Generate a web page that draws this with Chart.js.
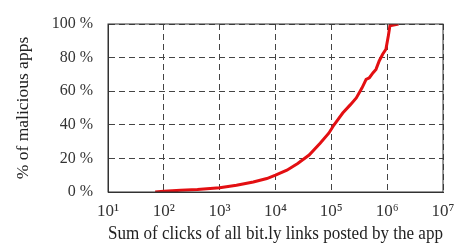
<!DOCTYPE html>
<html>
<head>
<meta charset="utf-8">
<script src="https://cdn.jsdelivr.net/npm/chart.js@4"></script>
<style>
  html, body { margin: 0; padding: 0; background: #fff; }
  #wrap { width: 457px; height: 246px; }
</style>
</head>
<body>
<div id="wrap"><canvas id="cdf"></canvas></div>
<script>
// clicks summed over all bit.ly links of an app, and the cumulative share of apps
const clicks = [70, 100, 200, 400, 1000, 2000, 4000, 7000, 10000, 16000, 25000, 40000, 63000,
    90000, 112000, 160000, 220000, 280000, 355000, 420000, 480000, 560000, 630000, 720000,
    830000, 950000, 1050000, 1120000, 1600000];
const pctApps = [0, 0.5, 1, 1.5, 2.5, 4, 6, 8, 10, 13, 17, 22, 29,
    35, 40, 47, 52, 56, 62, 67, 68, 71, 73, 78,
    82, 85, 93, 99, 100];
const xTicks = [1e1, 1e2, 1e3, 1e4, 1e5, 1e6, 1e7];
const yTicks = [0, 20, 40, 60, 80, 100];
const sup = ['⁰', '¹', '²', '³', '⁴', '⁵', '⁶', '⁷'];

const serif = 'Liberation Serif, Times New Roman, serif';

const frame = {
    id: 'frame',
    afterDraw(chart) {
        const { ctx, chartArea: a } = chart;
        ctx.save();
        ctx.strokeStyle = '#333';
        ctx.lineWidth = 1;
        ctx.strokeRect(a.left, a.top, a.right - a.left, a.bottom - a.top);
        ctx.restore();
    }
};

const points = clicks.map((c, i) => ({ x: c, y: pctApps[i] }));

new Chart(document.getElementById('cdf'), {
    type: 'line',
    data: {
        datasets: [{
            data: points,
            borderColor: '#e30f12',
            borderWidth: 3,
            pointRadius: 0,
            tension: 0,
            fill: false
        }]
    },
    options: {
        responsive: true,
        maintainAspectRatio: false,
        animation: false,
        layout: { padding: { top: 24, right: 14, bottom: 0, left: 0 } },
        plugins: { legend: { display: false }, tooltip: { enabled: false } },
        scales: {
            x: {
                type: 'logarithmic',
                min: 1e1,
                max: 1e7,
                afterBuildTicks: (axis) => { axis.ticks = xTicks.map(v => ({ value: v })); },
                afterFit: (axis) => {
                    axis.height = 54;
                    axis.paddingLeft = 0;
                    axis.paddingRight = 0;
                },
                ticks: {
                    color: '#333',
                    font: { family: serif, size: 17 },
                    padding: 9,
                    maxRotation: 0,
                    autoSkip: false,
                    callback: (v) => '10' + sup[Math.round(Math.log10(v))]
                },
                grid: { color: '#444', lineWidth: 1, drawTicks: false },
                border: { color: '#333', dash: [6, 4] },
                title: {
                    display: true,
                    text: 'Sum of clicks of all bit.ly links posted by the app',
                    color: '#222',
                    font: { family: serif, size: 18.5 },
                    padding: { top: 2, bottom: 1 }
                }
            },
            y: {
                min: 0,
                max: 100,
                afterBuildTicks: (axis) => { axis.ticks = yTicks.map(v => ({ value: v })); },
                afterFit: (axis) => {
                    axis.width = 108;
                    axis.paddingTop = 0;
                    axis.paddingBottom = 0;
                },
                ticks: {
                    color: '#333',
                    font: { family: serif, size: 16 },
                    padding: 15,
                    callback: (v) => v + ' %'
                },
                grid: { color: '#444', lineWidth: 1, drawTicks: false },
                border: { color: '#333', dash: [6, 4] },
                title: {
                    display: true,
                    text: '% of malicious apps',
                    color: '#222',
                    font: { family: serif, size: 17.5 },
                    padding: { top: 13, bottom: 0 }
                }
            }
        }
    },
    plugins: [frame]
});
</script>
</body>
</html>
